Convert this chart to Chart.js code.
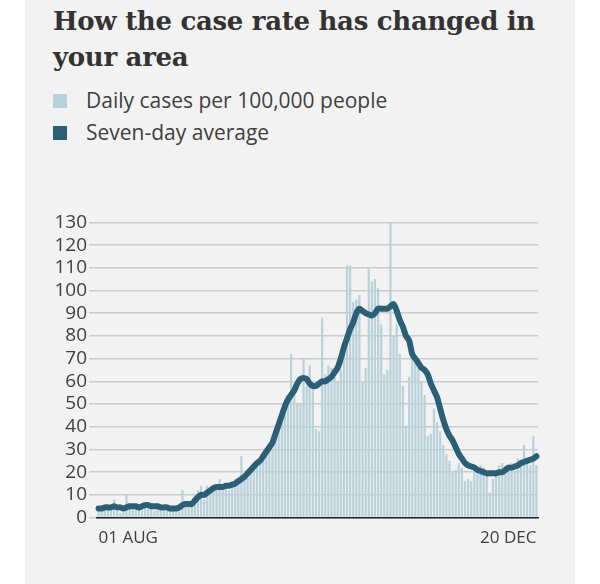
<!DOCTYPE html>
<html><head><meta charset="utf-8">
<script src="https://cdn.jsdelivr.net/npm/chart.js@4"></script>
<style>
body{margin:0;background:#fff;width:600px;height:584px;overflow:hidden;font-family:"Open Sans",sans-serif;}
#panel{position:absolute;left:25px;top:0;width:550px;height:584px;background:#f2f2f2;}
h1{position:absolute;left:28px;top:3px;margin:0;font-family:"DejaVu Serif",serif;font-weight:bold;font-size:26px;line-height:36px;color:#333;width:520px;letter-spacing:-0.3px}
.lg{position:absolute;left:28px;font-size:21px;color:#404040;}
.sq{display:inline-block;width:14px;height:14px;margin-right:19px;vertical-align:0px}
#wrap{position:absolute;left:0;top:209px;width:515px;height:341px;}
</style></head><body>
<div id="panel">
<h1>How the case rate has changed in your area</h1>
<div class="lg" style="top:86px"><span class="sq" style="background:#b8d0da"></span>Daily cases per 100,000 people</div>
<div class="lg" style="top:118px"><span class="sq" style="background:#2b5f75"></span>Seven-day average</div>
<div id="wrap"><canvas id="c"></canvas></div>
</div>
<script>
const tickLabels=["01 AUG","20 DEC"];
const daily=[3,4,4,5,4,8,3,2,4,10,4,5,4,5,3,6,4,5,3,4,4,3,5,4,3,4,
5,12,5,6,6,10,12,14,8,14,
10,13,13,17,12,13,12,16,17,15,
27,17,20,22,21,25,24,28,30,33,
35,38,40,46,48,52,72,59,50,
50,70,58,67,57,39,38,88,63,67,66,62,60,65,73,111,111,95,96,98,60,66,110,104,105,101,85,63,65,130,80,85,72,58,40,62,74,70,66,60,54,36,37,48,42,38,32,28,25,20,21,24,22,16,17,16,20,21,23,22,19,11,17,20,23,24,20,21,24,20,26,24,32,24,23,36,23];
const avg=[4,4,4.5,4.5,4.5,5,4.5,4.5,4,4.5,5,5,5,4.5,5,5.5,5.5,5,5,5,4.5,4.5,4.5,4,4,4,
4.5,5.5,6,6,6,7.5,9,10,10,11,
12,13,13.5,13.5,13.5,14,14,14.5,15,16,
17,18,19.5,21,22.5,24,25,27,29,31,
33,37,41,45,49,52,54,56,59,61,
61.5,61,59,58,58,59,60,60,61,62,
64,66,70,75,79,83,86,90,92,91,
90,89.5,89,90,92,92,92,92,93,94,
91,87,84,80,78,72,70,68,66,65,
63,59,56,53,48,43,39,36,34,31,
28,26,24,23,22.5,22,21,20.5,20,19.5,
19.5,19.5,19.5,20,20,21,22,22,22.5,23,
24,24.5,25,25.5,26,27];
const labels=daily.map((_,i)=>i);
new Chart(document.getElementById('c'),{
 data:{labels,datasets:[
  {type:'line',data:avg,borderColor:'#2b5f75',borderWidth:6,pointRadius:0,tension:0.3,borderCapStyle:'round',order:0},
  {type:'bar',data:daily,backgroundColor:'#b8d0da',barPercentage:0.7,categoryPercentage:1,order:1}
 ]},
 options:{responsive:true,maintainAspectRatio:false,animation:false,
  layout:{padding:{top:4,right:2}},
  plugins:{legend:{display:false},tooltip:{enabled:false}},
  scales:{
   x:{grid:{display:false},border:{color:'#222',width:1.5},
      ticks:{autoSkip:false,maxRotation:0,align:'inner',padding:2,color:'#404040',font:{size:17,family:'Open Sans'},
        callback:(v,i)=>i===0?tickLabels[0]:(i===labels.length-1?tickLabels[1]:null)}},
   y:{min:0,max:130,afterFit:s=>{s.width=72},
      grid:{color:'#cccccc',lineWidth:1.5},border:{display:false},
      ticks:{stepSize:10,autoSkip:false,color:'#404040',padding:2,font:{size:19,family:'Open Sans'}}}
  }}
});
</script></body></html>
